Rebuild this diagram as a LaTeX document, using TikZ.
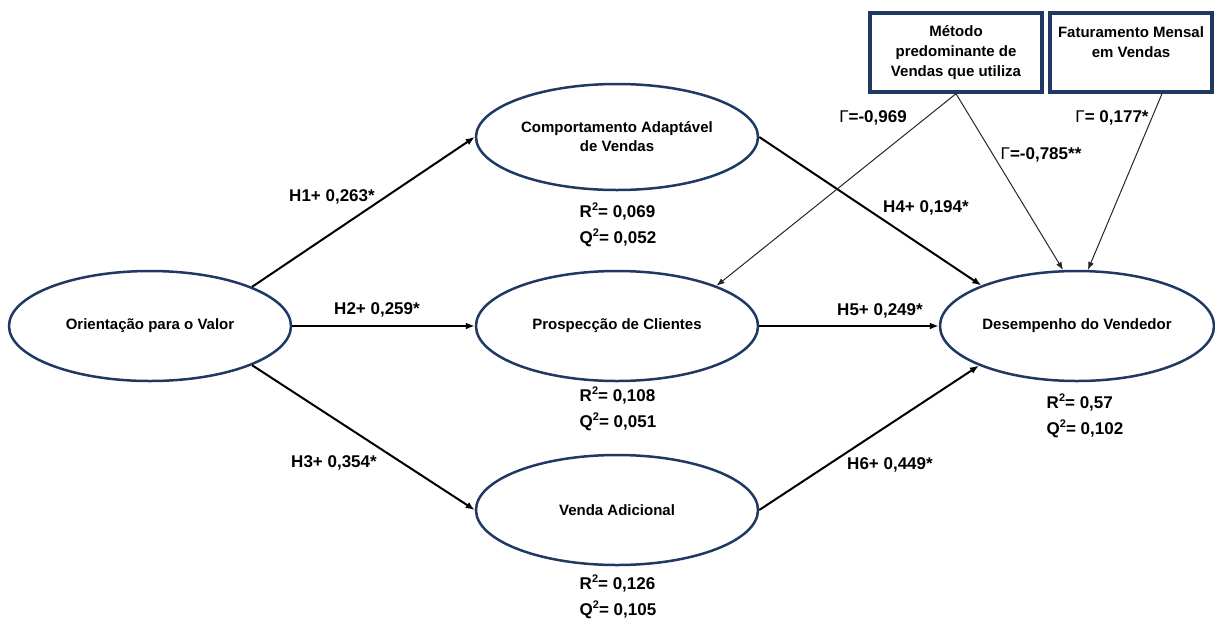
\documentclass[tikz,border=0pt]{standalone}
\usepackage{fontspec}
\setmainfont{Liberation Sans}
\usetikzlibrary{shapes.geometric,arrows.meta}
\definecolor{navy}{RGB}{31,56,100}
\newcommand{\sqr}{\raisebox{0.42em}{\fontsize{11}{11}\selectfont 2}}

\begin{document}
\begin{tikzpicture}[x=1pt,y=-1pt]
\tikzstyle{every node}+=[inner sep=0pt]
\tikzstyle{construct}=[draw=navy,line width=2.5pt,ellipse,minimum width=282pt,minimum height=110pt,align=center,font=\fontsize{15}{19}\selectfont\bfseries]
\tikzstyle{control}=[draw=navy,line width=3.4pt,rectangle,minimum height=79pt,align=center,font=\fontsize{15}{20}\selectfont\bfseries]
\tikzstyle{coef}=[font=\fontsize{17}{26}\selectfont\bfseries,align=left]
\tikzstyle{hpath}=[line width=2pt,-{Latex[length=9pt,width=7pt]}]
\tikzstyle{gpath}=[line width=1pt,draw=black!85,-{Latex[length=8pt,width=6pt]}]
\useasboundingbox (0,0) rectangle (1215,619);
% constructs
\node[construct] (ov) at (150,326) {Orientação para o Valor};
\node[construct,minimum height=106pt] (cav) at (617,137) {Comportamento Adaptável\\de Vendas};
\node[construct] (pc) at (617,326) {Prospecção de Clientes};
\node[construct] (va) at (617,510) {Venda Adicional};
\node[construct,minimum width=274pt] (dv) at (1077,326) {Desempenho do Vendedor};
% control variables
\node[control,minimum width=172pt] (mv) at (956,52.5) {Método\\predominante de\\Vendas que utiliza};
\node[control,minimum width=162pt] (fm) at (1131,52.5) {Faturamento Mensal\\em Vendas\\\phantom{x}};
% R2 and Q2
\node[coef] (cavfit) at (618,225) {R\sqr= 0,069\\Q\sqr= 0,052};
\node[coef] (pcfit) at (618,409) {R\sqr= 0,108\\Q\sqr= 0,051};
\node[coef] (vafit) at (618,597) {R\sqr= 0,126\\Q\sqr= 0,105};
\node[coef] (dvfit) at (1085,416) {R\sqr= 0,57\\Q\sqr= 0,102};
% paths
\draw[hpath] (ov.21) -- (cav.west);
\draw[hpath] (ov) -- (pc);
\draw[hpath] (ov.-21) -- (va.west);
\draw[hpath] (cav.east) -- (dv.157);
\draw[hpath] (pc) -- (dv);
\draw[hpath] (va.east) -- (dv.202);
\draw[gpath] (mv.south) -- (pc.22);
\draw[gpath] (mv.south) -- (dv.104);
\draw[gpath] ([xshift=31pt]fm.south) -- (dv.79);
% path labels
\node[coef] (h1) at (332,197) {H1+ 0,263*};
\node[coef] (h2) at (377,310) {H2+ 0,259*};
\node[coef] (h3) at (334,463) {H3+ 0,354*};
\node[coef] (h4) at (926,208) {H4+ 0,194*};
\node[coef] (h5) at (880,311) {H5+ 0,249*};
\node[coef] (h6) at (890,465) {H6+ 0,449*};
\node[coef] (g1) at (873,118) {{\mdseries Γ}=-0,969};
\node[coef] (g2) at (1041,155) {{\mdseries Γ}=-0,785**};
\node[coef] (g3) at (1112,118) {{\mdseries Γ}= 0,177*};
\end{tikzpicture}
\end{document}
